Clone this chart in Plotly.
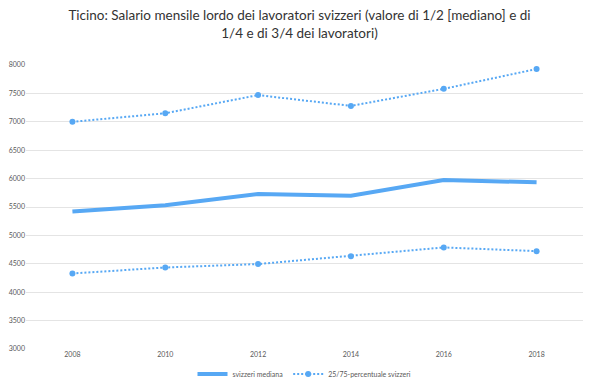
import plotly.graph_objects as go

years = ["2008", "2010", "2012", "2014", "2016", "2018"]
mediana = [5420, 5530, 5730, 5700, 5975, 5935]
p75 = [7000, 7150, 7470, 7280, 7580, 7930]
p25 = [4330, 4435, 4495, 4635, 4788, 4723]
y_ticks = [3000, 3500, 4000, 4500, 5000, 5500, 6000, 6500, 7000, 7500, 8000]

blue = "#57a8f4"
fig = go.Figure()
fig.add_trace(go.Scatter(x=years, y=mediana, mode="lines", name="svizzeri mediana",
                         line=dict(color=blue, width=4), cliponaxis=False))
fig.add_trace(go.Scatter(x=years, y=p75, mode="lines+markers", name="25/75-percentuale svizzeri",
                         line=dict(color=blue, width=2, dash="2px,2px"), marker=dict(size=6, color=blue),
                         legendgroup="p", cliponaxis=False))
fig.add_trace(go.Scatter(x=years, y=p25, mode="lines+markers", name="25/75-percentuale svizzeri",
                         line=dict(color=blue, width=2, dash="2px,2px"), marker=dict(size=6, color=blue),
                         legendgroup="p", showlegend=False, cliponaxis=False))

# the page body adds an 8px offset, so the figure is sized to 583x378
fig.update_layout(
    width=583, height=378,
    margin=dict(l=18, r=8, t=57, b=37, autoexpand=False),
    paper_bgcolor="white", plot_bgcolor="white",
    font=dict(family="Lato, Open Sans, sans-serif", color="#595959", size=7),
    title=dict(text="Ticino: Salario mensile lordo dei lavoratori svizzeri (valore di 1/2 [mediano] e di<br>1/4 e di 3/4 dei lavoratori)",
               x=0.5, xanchor="center", y=1 - 12 / 378, yanchor="top",
               font=dict(family="Lato, Open Sans, sans-serif", size=13.5, color="#333333")),
    showlegend=True,
    legend=dict(orientation="h", x=0.5, xanchor="center", yref="container", y=1 - 366 / 378,
                yanchor="middle", bgcolor="rgba(0,0,0,0)",
                font=dict(size=7, color="#595959"), itemwidth=30),
    xaxis=dict(type="category", range=[-0.5, 5.5], showgrid=False, showline=False, zeroline=False, ticks="",
               automargin=False, tickfont=dict(size=7, color="#595959")),
    yaxis=dict(range=[3000, 8000], tickvals=y_ticks, showgrid=True, gridcolor="#e4e4e4", gridwidth=1,
               automargin=False, zeroline=False, showline=False, ticks="",
               tickfont=dict(size=7, color="#595959")),
)
fig.write_html("out.html")
